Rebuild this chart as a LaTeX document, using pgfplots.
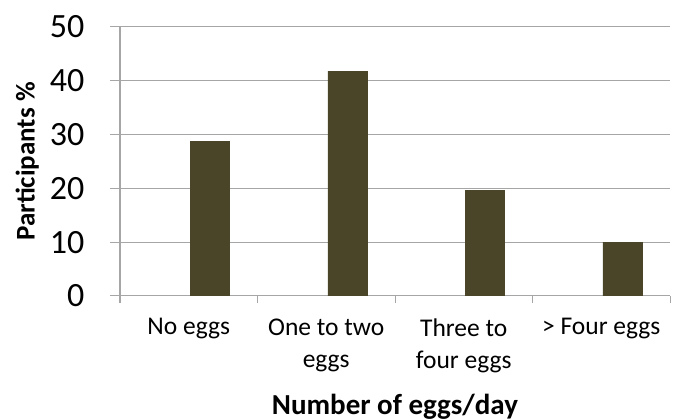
\documentclass[border=0pt]{standalone}
\usepackage{fontspec}
\setmainfont{Carlito}
\usepackage{pgfplots}
\pgfplotsset{compat=1.18}
\definecolor{barolive}{HTML}{4A4529}
\definecolor{gridgray}{HTML}{A6A6A6}

\begin{document}
\begin{tikzpicture}
\useasboundingbox (0,0) rectangle (675pt,420pt);
\begin{axis}[
    at={(120pt,124pt)}, anchor=south west,
    scale only axis, width=550pt, height=269pt,
    xmin=-0.5, xmax=3.5, ymin=0, ymax=50,
    ytick={0,10,...,50},
    xtick={0,1,2,3},
    xticklabels={No eggs, One to two\\eggs, Three to\\four eggs, {> Four eggs}},
    minor xtick={-0.5,0.5,1.5,2.5,3.5},
    major x tick style={draw=none},
    axis x line*=bottom, axis y line*=left,
    axis line style={gridgray, line width=1pt, -},
    ymajorgrids, grid style={gridgray, line width=1pt},
    tick style={gridgray, line width=1pt},
    tick align=outside,
    major tick length=10pt, minor tick length=7pt,
    /pgf/number format/assume math mode=true,
    yticklabel style={font=\fontsize{34}{40}\selectfont, text=black, xshift=-22pt},
    xticklabel style={align=center, font=\fontsize{25.5}{32}\selectfont, text=black, yshift=-9pt},
    xlabel={Number of eggs/day},
    ylabel={Participants \%},
    xlabel style={font=\fontsize{29}{32}\selectfont\bfseries,
        at={(axis description cs:0.5,-0.4387)}, anchor=base},
    ylabel style={font=\fontsize{27}{32}\selectfont\bfseries,
        at={(axis description cs:-0.196,0.5)}, anchor=north},
]
\addplot[ybar, bar width=39pt, bar shift=21pt, fill=barolive, draw=barolive]
    coordinates {(0,28.7) (1,41.8) (2,19.6) (3,10)};
\end{axis}
\end{tikzpicture}
\end{document}
